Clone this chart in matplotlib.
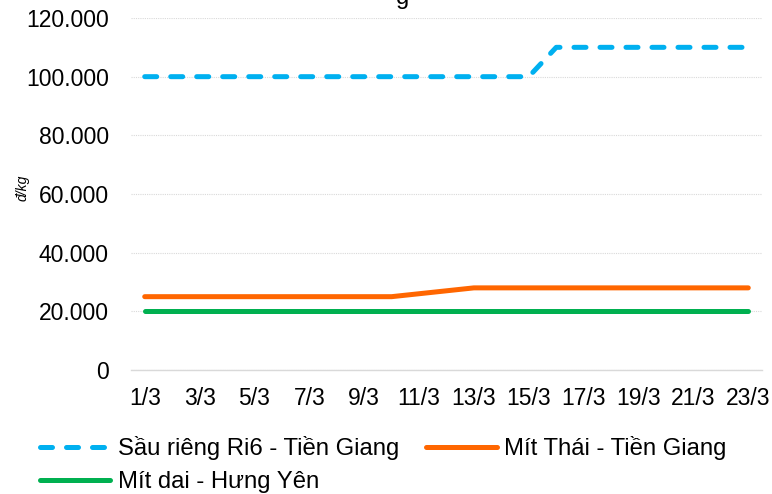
import matplotlib
matplotlib.use("Agg")
import matplotlib.pyplot as plt
from matplotlib.ticker import FuncFormatter
from matplotlib.lines import Line2D

plt.rcParams['font.family'] = ['Liberation Sans', 'DejaVu Sans']

tick_labels = [f"{d}/3" for d in range(1, 24, 2)]

sau_rieng_days = list(range(1, 24))
sau_rieng = [100000] * 15 + [110000] * 8

mit_thai_days = list(range(1, 11)) + list(range(13, 24))
mit_thai = [25000] * 10 + [28000] * 11

mit_dai_days = list(range(1, 24))
mit_dai = [20000] * 23

series_names = ["Sầu riêng Ri6 - Tiền Giang", "Mít Thái - Tiền Giang", "Mít dai - Hưng Yên"]
colors = ["#00B0F0", "#FF6600", "#00B050"]
LW = 3.6
DASH = (2.4, 2.8)

fig = plt.figure(figsize=(7.72, 4.94), dpi=100)
ax = fig.add_axes([131/772, 1 - 370/494, (762-131)/772, (370-18)/494])

ax.plot([d - 1 for d in sau_rieng_days], sau_rieng, color=colors[0], lw=LW,
        dashes=DASH, dash_capstyle='round', solid_capstyle='round')
ax.plot([d - 1 for d in mit_thai_days], mit_thai, color=colors[1], lw=LW,
        solid_capstyle='round', solid_joinstyle='round')
ax.plot([d - 1 for d in mit_dai_days], mit_dai, color=colors[2], lw=LW,
        solid_capstyle='round')

ax.set_xlim(-0.5, 22.5)
ax.set_ylim(0, 120000)
ax.set_yticks(range(0, 120001, 20000))
ax.yaxis.set_major_formatter(FuncFormatter(lambda v, p: f"{int(v):,}".replace(",", ".")))
ax.set_xticks(range(0, 23, 2))
ax.set_xticklabels(tick_labels)
ax.tick_params(axis='both', length=0, colors='black')
ax.tick_params(axis='x', labelsize=16.5, pad=12)
ax.tick_params(axis='y', labelsize=16.5, pad=16)
for s in ['top', 'right', 'left']:
    ax.spines[s].set_visible(False)
ax.spines['bottom'].set_color('#D9D9D9')
ax.spines['bottom'].set_linewidth(1.0)
ax.grid(axis='y', color='#D9D9D9', lw=0.8, ls=(0, (1, 1)))
ax.set_axisbelow(True)

fig.text(23/772, 1 - 188/494, "đ/kg", rotation=90, style='italic', fontsize=10,
         ha='center', va='center')
fig.text(403/772, 1 - 4/494, "g", fontsize=17, ha='center', va='baseline')

handles = [Line2D([], [], color=colors[0], lw=LW, dashes=DASH, dash_capstyle='round'),
           Line2D([], [], color=colors[1], lw=LW, solid_capstyle='round'),
           Line2D([], [], color=colors[2], lw=LW, solid_capstyle='round')]
leg_kw = dict(frameon=False, fontsize=17.2, handlelength=2.95, handletextpad=0.3,
              borderaxespad=0, borderpad=0)
fig.legend([handles[0], handles[1]], series_names[:2], loc='center left',
           bbox_to_anchor=(40/772, 1 - 448/494), ncol=2, columnspacing=1.15, **leg_kw)
fig.legend([handles[2]], series_names[2:], loc='center left',
           bbox_to_anchor=(40/772, 1 - 482/494), **leg_kw)

fig.savefig("out.png", dpi=100)
